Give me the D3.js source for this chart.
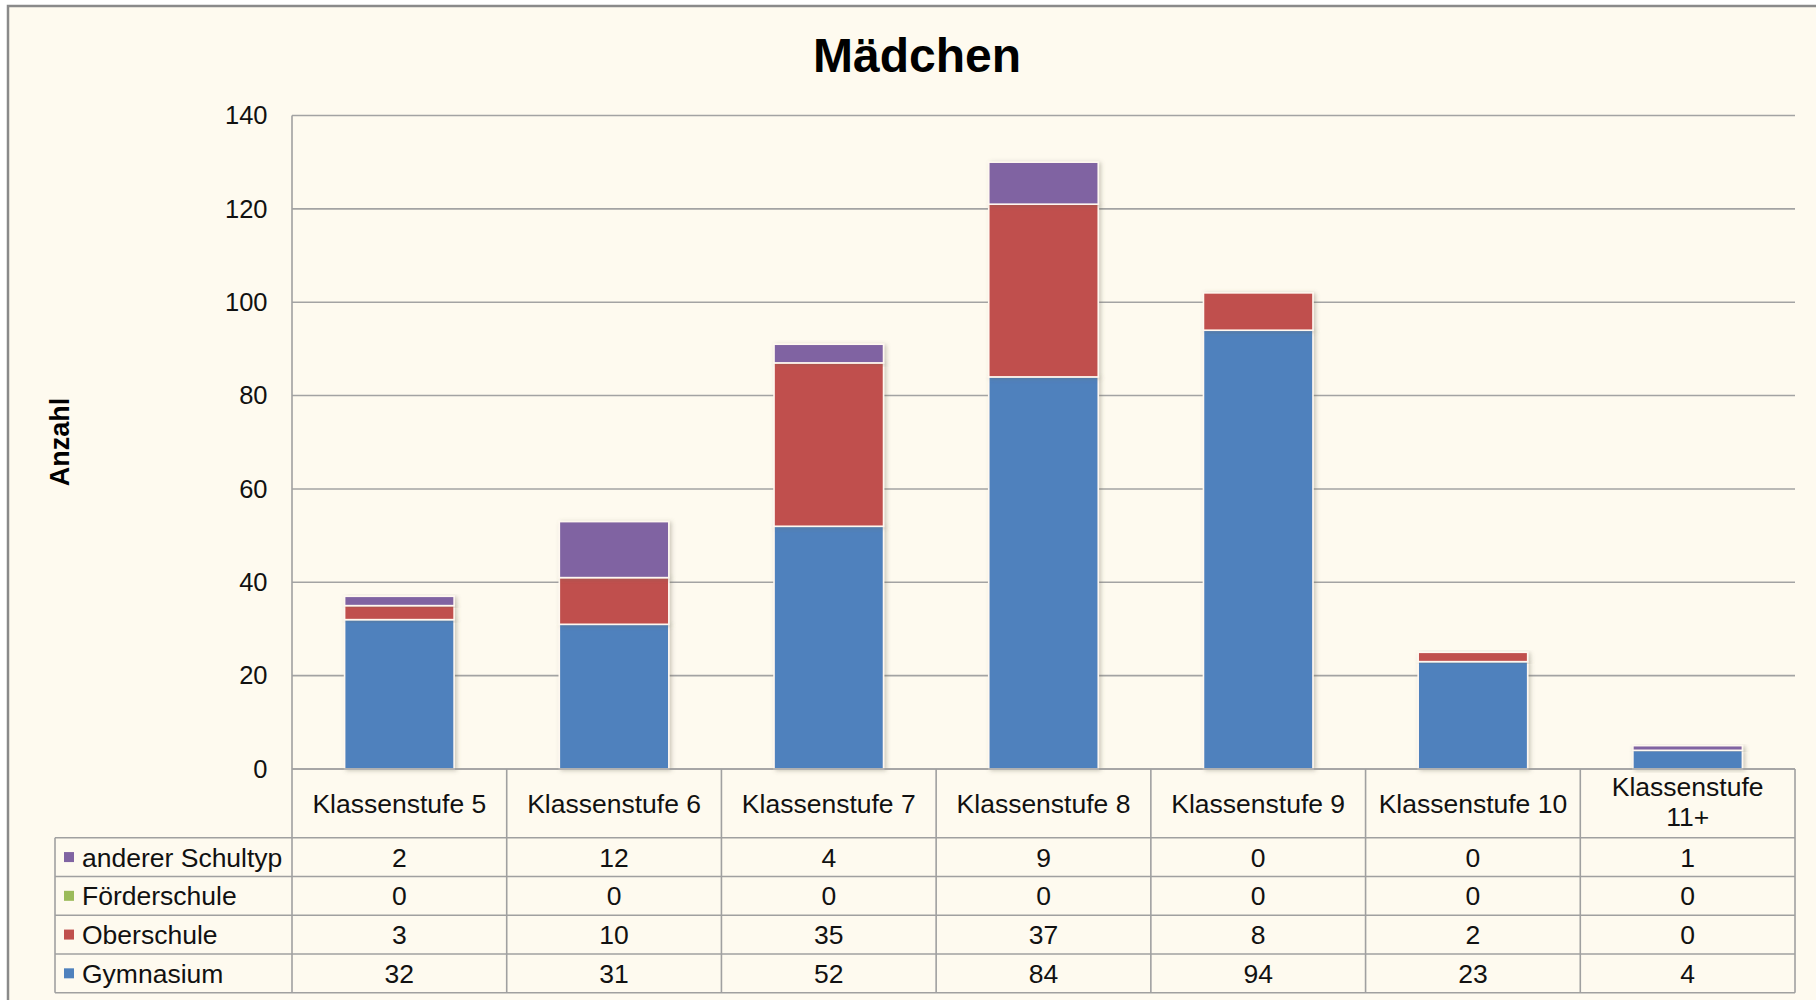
<!DOCTYPE html>
<html><head><meta charset="utf-8">
<script src="https://cdn.jsdelivr.net/npm/d3@7"></script>
<style>
html,body{margin:0;padding:0;background:#fff;}
svg{display:block;font-family:"Liberation Sans",Arial,sans-serif;}
</style></head>
<body>
<svg id="chart" width="1816" height="1000"></svg>
<script>
const title = "Mädchen";
const yAxisLabel = "Anzahl";
const categories = ["Klassenstufe 5","Klassenstufe 6","Klassenstufe 7","Klassenstufe 8","Klassenstufe 9","Klassenstufe 10","Klassenstufe 11+"];
const seriesNames = ["Gymnasium","Oberschule","Förderschule","anderer Schultyp"];
const gymnasium = [32,31,52,84,94,23,4];
const oberschule = [3,10,35,37,8,2,0];
const foerderschule = [0,0,0,0,0,0,0];
const andererSchultyp = [2,12,4,9,0,0,1];
const seriesColors = ["#4F81BD","#C0504D","#9BBB59","#8064A2"];
const yTicks = [0,20,40,60,80,100,120,140];

const seriesValues = [gymnasium, oberschule, foerderschule, andererSchultyp];
const rows = categories.map((c,i)=>{
  const o = {cat:c};
  seriesNames.forEach((s,j)=>o[s]=seriesValues[j][i]);
  return o;
});

const svg = d3.select("#chart");
const W = 1816, H = 1000;
const bg = "#FEFAEF", gridCol = "#A3A3A3", lineCol = "#A0A0A0";
const fs = 26.5;

svg.append("rect").attr("x",0).attr("y",0).attr("width",W).attr("height",H).attr("fill","#fff");
svg.append("rect").attr("x",8).attr("y",6).attr("width",W+20).attr("height",H+20)
  .attr("fill",bg).attr("stroke","#8a8a8a").attr("stroke-width",2.5);

const defs = svg.append("defs");
const f = defs.append("filter").attr("id","sh").attr("x","-20%").attr("y","-20%").attr("width","140%").attr("height","140%");
f.append("feDropShadow").attr("dx",2).attr("dy",1).attr("stdDeviation",2.2).attr("flood-color","#6b6655").attr("flood-opacity",0.35);

const plotLeft = 292, plotRight = 1795, plotTop = 115.5, zeroY = 769;
const x = d3.scaleBand().domain(categories).range([plotLeft,plotRight]).padding(0);
const y = d3.scaleLinear().domain([0,140]).range([zeroY, plotTop]);

svg.append("text").attr("x",917).attr("y",72).attr("text-anchor","middle")
  .attr("font-size",48).attr("font-weight","bold").attr("fill","#000").text(title);

svg.append("text").attr("transform","translate(69,442) rotate(-90)").attr("text-anchor","middle")
  .attr("font-size",27).attr("font-weight","bold").attr("fill","#000").text(yAxisLabel);

svg.append("g").selectAll("line").data(yTicks).join("line")
  .attr("x1",plotLeft).attr("x2",plotRight).attr("y1",d=>y(d)).attr("y2",d=>y(d))
  .attr("stroke",gridCol).attr("stroke-width",1.6);

const yAxis = svg.append("g").attr("transform",`translate(${plotLeft},0)`)
  .call(d3.axisLeft(y).tickValues(yTicks).tickSize(0).tickPadding(24.5));
yAxis.select(".domain").remove();
yAxis.selectAll("text").attr("font-size",25.5).attr("fill","#111").attr("font-family","Liberation Sans, Arial, sans-serif");

const stack = d3.stack().keys(seriesNames);
const stacked = stack(rows);
const barFrac = 0.51;
const bw = x.bandwidth()*barFrac;
const barG = svg.append("g");
stacked.forEach((layer,li)=>{
  barG.append("g").selectAll("rect").data(layer.filter(d=>d[1]-d[0]>0)).join("rect")
    .attr("x",d=>x(d.data.cat)+(x.bandwidth()-bw)/2)
    .attr("y",d=>y(d[1]))
    .attr("width",bw)
    .attr("height",d=>y(d[0])-y(d[1]))
    .attr("fill",seriesColors[li])
    .attr("stroke","#FFF8F0").attr("stroke-width",1.6)
    .attr("filter","url(#sh)");
});

const headerBottom = 837.7;
const rowH = 38.75;
const legendLeft = 55;
const tableRows = seriesNames.slice().reverse();
const tableBottom = headerBottom + rowH*tableRows.length;
const tg = svg.append("g");
tg.append("line").attr("x1",plotLeft).attr("x2",plotRight).attr("y1",zeroY).attr("y2",zeroY).attr("stroke",lineCol).attr("stroke-width",1.6);
d3.range(tableRows.length+1).forEach(i=>{
  const yy = headerBottom + i*rowH;
  tg.append("line").attr("x1",legendLeft).attr("x2",plotRight).attr("y1",yy).attr("y2",yy).attr("stroke",lineCol).attr("stroke-width",1.6);
});
tg.append("line").attr("x1",plotLeft).attr("x2",plotLeft).attr("y1",plotTop).attr("y2",tableBottom).attr("stroke",lineCol).attr("stroke-width",1.6);
tg.append("line").attr("x1",legendLeft).attr("x2",legendLeft).attr("y1",headerBottom).attr("y2",tableBottom).attr("stroke",lineCol).attr("stroke-width",1.6);
categories.forEach(c=>{
  const xx = x(c)+x.bandwidth();
  tg.append("line").attr("x1",xx).attr("x2",xx).attr("y1",zeroY).attr("y2",tableBottom).attr("stroke",lineCol).attr("stroke-width",1.6);
});
categories.forEach(c=>{
  const cx = x(c)+x.bandwidth()/2;
  const t = tg.append("text").attr("x",cx).attr("text-anchor","middle").attr("font-size",fs).attr("fill","#111");
  const m = c.match(/^(Klassenstufe) (11\+)$/);
  if(m){
    t.append("tspan").attr("x",cx).attr("y",796).text(m[1]);
    t.append("tspan").attr("x",cx).attr("y",826).text(m[2]);
  } else {
    t.attr("y",813).text(c);
  }
});
tableRows.forEach((s,ri)=>{
  const si = seriesNames.indexOf(s);
  const yc = headerBottom + ri*rowH + rowH/2;
  tg.append("rect").attr("x",64).attr("y",yc-5).attr("width",10).attr("height",10).attr("fill",seriesColors[si]);
  tg.append("text").attr("x",82).attr("y",yc+9.5).attr("font-size",fs).attr("fill","#111").text(s);
  categories.forEach((c,ci)=>{
    tg.append("text").attr("x",x(c)+x.bandwidth()/2).attr("y",yc+9.5).attr("text-anchor","middle")
      .attr("font-size",fs).attr("fill","#111").text(seriesValues[si][ci]);
  });
});
</script>
</body></html>
